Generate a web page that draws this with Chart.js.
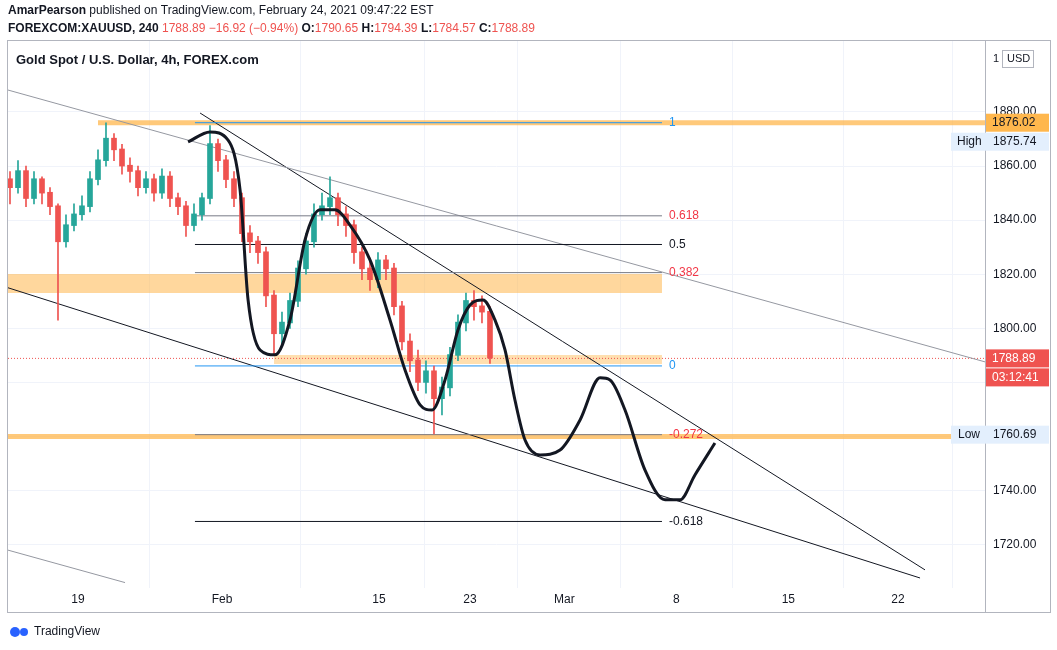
<!DOCTYPE html>
<html>
<head>
<meta charset="utf-8">
<script src="https://cdn.jsdelivr.net/npm/chart.js@4"></script>
<style>
  html, body { margin: 0; padding: 0; background: #fff; }
  #wrap { width: 1057px; height: 650px; position: relative; }
</style>
</head>
<body>
<div id="wrap"><canvas id="c" width="1057" height="650"></canvas></div>
<script>
// x unit = trading day on the chart, 0 = Jan 19
const tickPos = [0, 9, 18.81, 24.5, 30.4, 37.4, 44.4, 51.25];
const tickLabels = ['19', 'Feb', '15', '23', 'Mar', '8', '15', '22'];

// 12h candles
const barX0 = -4.25, barStep = 0.5;
const closes = [1852,1858,1848,1855,1850,1845,1832,1838,1842,1845,1855,1862,1870,1866,1860,1858,1852,1855,1850,1856,
  1848,1845,1838,1842,1848,1868,1862,1855,1848,1835,1832,1828,1812,1798,1802,1810,1822,1832,1842,1845,
  1848,1842,1838,1828,1822,1818,1825,1822,1808,1795,1788,1780,1784,1774,1778,1790,1802,1810,1808,1806,1789];
const highs = [1858,1862,1860,1858,1856,1852,1846,1842,1846,1849,1858,1866,1876,1872,1868,1863,1860,1858,1857,1859,
  1858,1850,1847,1846,1850,1875,1870,1864,1858,1850,1838,1834,1830,1814,1806,1813,1825,1835,1846,1850,
  1856,1850,1845,1840,1830,1826,1828,1827,1824,1810,1798,1792,1788,1786,1782,1793,1805,1813,1814,1812,1808];
const lows = [1846,1850,1845,1846,1846,1842,1803,1830,1836,1840,1843,1853,1860,1862,1857,1854,1849,1850,1847,1848,
  1845,1842,1834,1836,1840,1846,1858,1852,1845,1832,1828,1824,1808,1790,1794,1800,1808,1820,1830,1840,
  1842,1838,1834,1824,1818,1814,1815,1818,1805,1792,1784,1777,1776,1761,1768,1775,1788,1799,1803,1802,1787];

// hand-drawn projection curve
const curveX = [6.88,8.25,9.38,10.13,10.63,11.38,12.31,13.25,14.19,15.13,16.06,17,18.25,19.5,20.44,21.38,22.13,22.94,23.75,24.5,
  25.31,26.06,26.69,27.31,27.94,28.88,30.13,31.38,32.63,33.25,34.19,35.44,36.69,37.63,38.56,39.81];
const curveY = [1868.9,1872.6,1869.6,1851.2,1810.5,1792,1790.2,1803.1,1832.7,1843.8,1843.8,1838.2,1825.3,1803.1,1784.6,1771.7,1769.8,1780.9,1799.4,1808.6,
  1810.5,1803.1,1792,1773.5,1758.7,1753.2,1755,1766.1,1781.7,1780.9,1769.8,1747.6,1736.6,1736.6,1745.8,1757.6];

// fibonacci levels
const fibLevels = ['1', '0.618', '0.5', '0.382', '0', '-0.272', '-0.618'];
const fibPrices = [1876.02, 1841.6, 1831.0, 1820.6, 1786.1, 1760.69, 1728.6];
const fibColors = ['#2196f3', '#787b86', '#131722', '#787b86', '#2196f3', '#787b86', '#131722'];
const fibText = ['#2196f3', '#f23645', '#131722', '#f23645', '#2196f3', '#f23645', '#131722'];
const fibStart = 7.31, fibEnd = 36.5;

const xMin = -4.375, xMax = 56.69;

const candles = closes.map((c, i) => {
  const o = i === 0 ? 1855 : closes[i - 1];
  return { x: barX0 + i * barStep, o, c, h: highs[i], l: lows[i] };
});
const upCol = '#26a69a', dnCol = '#ef5350';
const candleColor = ctx => { const d = candles[ctx.dataIndex]; return d && d.c >= d.o ? upCol : dnCol; };

function seg(x1, y1, x2, y2, color, width, order, extra) {
  return Object.assign({
    type: 'line', data: [{ x: x1, y: y1 }, { x: x2, y: y2 }],
    borderColor: color, borderWidth: width, pointRadius: 0, order: order, clip: true
  }, extra || {});
}

const datasets = [
  seg(xMin, 1816.6, fibEnd, 1816.6, 'rgba(255,183,77,0.55)', 19, 20, { borderCapStyle: 'butt' }),
  seg(12.25, 1788.5, fibEnd, 1788.5, 'rgba(255,183,77,0.45)', 9, 20, { borderCapStyle: 'butt' }),
  seg(1.25, 1876.02, xMax, 1876.02, 'rgba(255,183,77,0.75)', 5, 20),
  seg(xMin, 1760.0, xMax, 1760.0, 'rgba(255,183,77,0.75)', 5, 20),
  seg(xMin, 1888.1, xMax, 1787.6, '#9598a1', 1, 15),
  seg(7.63, 1879.6, 52.94, 1710.7, '#131722', 1, 15),
  seg(xMin, 1815, 52.63, 1707.7, '#131722', 1, 15),
  seg(xMin, 1718, 2.94, 1706, '#9598a1', 1, 15),
  seg(xMin, 1788.89, xMax, 1788.89, '#ef5350', 1, 15, { borderDash: [1, 2] }),
];
fibPrices.forEach((p, i) => datasets.push(seg(fibStart, p, fibEnd, p, fibColors[i], 1, 14)));
datasets.push({
  type: 'bar', data: candles.map(d => ({ x: d.x, y: [d.l, d.h] })),
  backgroundColor: candleColor, barThickness: 1, grouped: false, order: 5
});
datasets.push({
  type: 'bar', data: candles.map(d => ({ x: d.x, y: [Math.min(d.o, d.c), Math.max(d.o, d.c) + 0.3] })),
  backgroundColor: candleColor, barThickness: 5, grouped: false, order: 4
});
datasets.push({
  type: 'line', data: curveX.map((x, i) => ({ x, y: curveY[i] })),
  borderColor: '#131722', borderWidth: 3, pointRadius: 0, tension: 0.4, cubicInterpolationMode: 'monotone', order: 1
});

function tag(ctx, y, text, bg, fg, x, w) {
  ctx.fillStyle = bg;
  ctx.fillRect(x, y - 9, w, 18);
  ctx.fillStyle = fg;
  ctx.textAlign = 'left';
  ctx.textBaseline = 'middle';
  ctx.fillText(text, x + 6, y);
}

const overlay = {
  id: 'overlay',
  afterDraw(chart) {
    const ctx = chart.ctx, xs = chart.scales.x, ys = chart.scales.y;
    ctx.save();
    ctx.strokeStyle = '#b2b5be'; ctx.lineWidth = 1;
    ctx.strokeRect(7.5, 40.5, 1043, 572);
    ctx.beginPath(); ctx.moveTo(985.5, 40); ctx.lineTo(985.5, 612); ctx.stroke();
    ctx.font = '12px "Liberation Sans", Arial';
    ctx.textBaseline = 'middle'; ctx.textAlign = 'left';
    fibPrices.forEach((p, i) => {
      ctx.fillStyle = fibText[i];
      ctx.fillText(fibLevels[i], xs.getPixelForValue(fibEnd) + 7, ys.getPixelForValue(p));
    });
    // High / Low boxes
    const yHigh = ys.getPixelForValue(1876.02) + 19, yLow = ys.getPixelForValue(1760.69);
    ctx.fillStyle = '#e3effd';
    ctx.fillRect(951, yHigh - 9, 98, 18);
    ctx.fillRect(951, yLow - 9, 98, 18);
    ctx.fillStyle = '#131722';
    ctx.fillText('High', 957, yHigh);
    ctx.fillText('1875.74', 993, yHigh);
    ctx.fillText('Low', 958, yLow);
    ctx.fillText('1760.69', 993, yLow);
    tag(ctx, ys.getPixelForValue(1876.02), '1876.02', '#ffb74d', '#131722', 986, 63);
    tag(ctx, ys.getPixelForValue(1788.89), '1788.89', '#ef5350', '#fff', 986, 63);
    tag(ctx, ys.getPixelForValue(1788.89) + 19, '03:12:41', '#ef5350', '#fff', 986, 63);
    // USD box
    ctx.fillStyle = '#fff'; ctx.fillRect(1000, 48, 38, 22);
    ctx.fillRect(1000, 50, 36, 18);
    ctx.strokeStyle = '#b2b5be'; ctx.strokeRect(1002.5, 50.5, 31, 17);
    ctx.fillStyle = '#131722'; ctx.font = '11px "Liberation Sans", Arial';
    ctx.fillText('1', 993, 59);
    ctx.fillText('USD', 1007, 59);
    // headers
    ctx.font = 'bold 13px "Liberation Sans", Arial';
    ctx.fillText('Gold Spot / U.S. Dollar, 4h, FOREX.com', 16, 60);
    ctx.font = 'bold 12px "Liberation Sans", Arial';
    ctx.fillText('AmarPearson', 8, 11);
    let w = ctx.measureText('AmarPearson').width;
    ctx.font = '12px "Liberation Sans", Arial';
    ctx.fillText(' published on TradingView.com, February 24, 2021 09:47:22 EST', 8 + w, 11);
    let x = 8;
    const parts = [['FOREXCOM:XAUUSD, 240 ', '#131722', true], ['1788.89 ', '#ef5350'], ['\u221216.92 (\u22120.94%) ', '#ef5350'],
      ['O:', '#131722', true], ['1790.65 ', '#ef5350'], ['H:', '#131722', true], ['1794.39 ', '#ef5350'],
      ['L:', '#131722', true], ['1784.57 ', '#ef5350'], ['C:', '#131722', true], ['1788.89', '#ef5350']];
    parts.forEach(p => {
      ctx.font = (p[2] ? 'bold ' : '') + '12px "Liberation Sans", Arial';
      ctx.fillStyle = p[1];
      ctx.fillText(p[0], x, 29);
      x += ctx.measureText(p[0]).width;
    });
    ctx.fillStyle = '#2962ff';
    ctx.beginPath(); ctx.arc(15, 632, 5, 0, Math.PI * 2); ctx.fill();
    ctx.beginPath(); ctx.arc(24, 632, 4, 0, Math.PI * 2); ctx.fill();
    ctx.fillStyle = '#131722'; ctx.font = '12px "Liberation Sans", Arial';
    ctx.fillText('TradingView', 34, 632);
    ctx.restore();
  }
};

new Chart(document.getElementById('c'), {
  type: 'bar',
  data: { datasets },
  plugins: [overlay],
  options: {
    responsive: false, animation: false,
    layout: { padding: { left: 8, top: 40, right: 7, bottom: 38 } },
    plugins: { legend: { display: false }, tooltip: { enabled: false } },
    scales: {
      x: {
        type: 'linear', min: xMin, max: xMax, offset: false,
        afterBuildTicks: s => { s.ticks = tickPos.map(v => ({ value: v })); },
        afterFit: s => { s.height = 24; },
        ticks: {
          autoSkip: false, maxRotation: 0, color: '#131722', padding: 4,
          font: { family: '"Liberation Sans", Arial', size: 12 },
          callback: v => { const i = tickPos.indexOf(v); return i >= 0 ? tickLabels[i] : ''; }
        },
        grid: { color: '#f0f3fa', drawTicks: false },
        border: { display: false }
      },
      y: {
        position: 'right', min: 1704, max: 1906.6,
        afterBuildTicks: s => { s.ticks = [1720,1740,1760,1780,1800,1820,1840,1860,1880].map(v => ({ value: v })); },
        afterFit: s => { s.width = 65; },
        ticks: {
          color: '#131722', padding: 8,
          font: { family: '"Liberation Sans", Arial', size: 12 },
          callback: v => v.toFixed(2)
        },
        grid: { color: '#f0f3fa', drawTicks: false },
        border: { display: false }
      }
    }
  }
});
</script>
</body>
</html>
